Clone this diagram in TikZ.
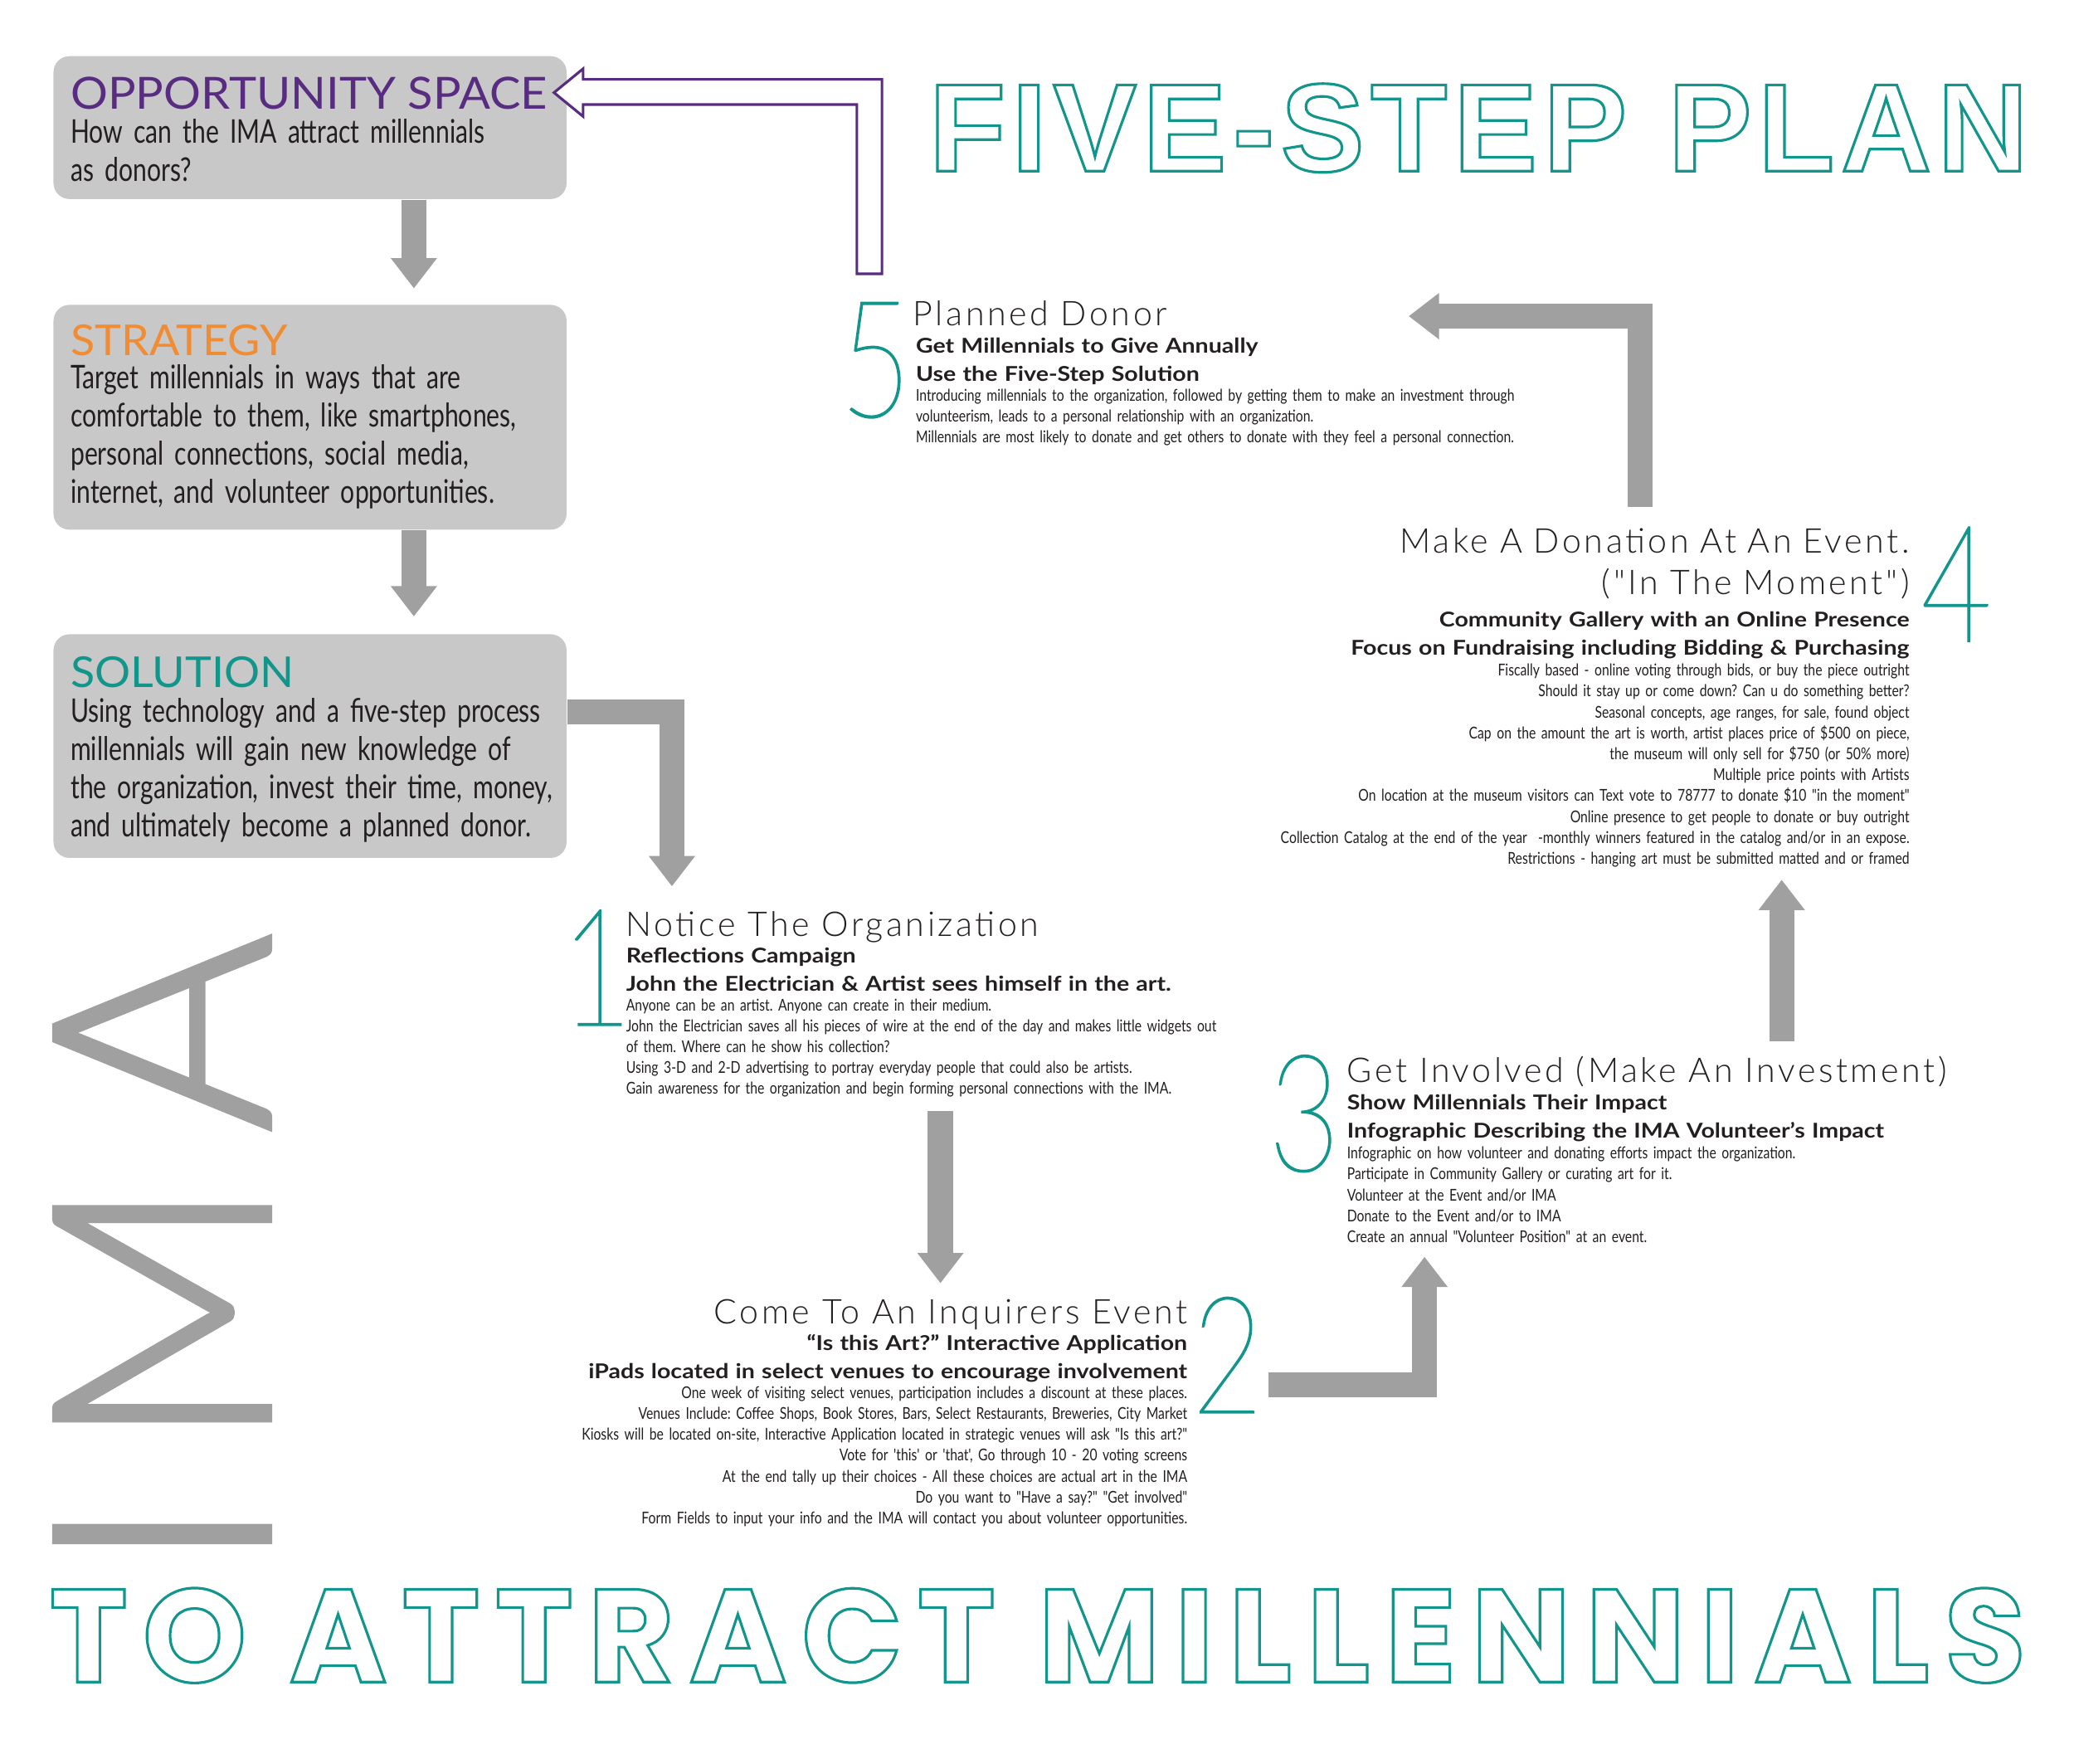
\documentclass[tikz,border=0pt]{standalone}
\usepackage{fontspec}
\setmainfont{Lato}
\usetikzlibrary{arrows.meta,calc}

\IfFontExistsTF{Lato Light}{%
  \newfontfamily\lightfont[LetterSpace=8.7]{Lato Light}%
  \newfontfamily\imafont[LetterSpace=14]{Lato Light}}{%
  \newfontfamily\lightfont[LetterSpace=8.7]{Lato}%
  \newfontfamily\imafont[LetterSpace=14]{Lato}}
\IfFontExistsTF{Lato Thin}{\newfontfamily\numfont[FakeStretch=0.75]{Lato Thin}}{%
  \IfFontExistsTF{Lato Hairline}{\newfontfamily\numfont[FakeStretch=0.75]{Lato Hairline}}{%
    \IfFontExistsTF{Lato Light}{\newfontfamily\numfont[FakeStretch=0.75]{Lato Light}}{\newfontfamily\numfont[FakeStretch=0.75]{Lato}}}}
\newfontfamily\headfont[FakeStretch=1.05]{Lato}
\newfontfamily\condfont[FakeStretch=0.765]{Lato}
\newfontfamily\notefont[FakeStretch=0.80]{Lato}
\newfontfamily\subfont[FakeStretch=1.16]{Lato}
\newfontfamily\titlefont[LetterSpace=5]{Liberation Sans}
\newfontfamily\widefont[LetterSpace=11.4]{Poppins}

\definecolor{boxgray}{RGB}{200,200,200}
\definecolor{arrowgray}{RGB}{160,160,160}
\definecolor{imateal}{RGB}{18,150,140}
\definecolor{opppurple}{RGB}{88,44,128}
\definecolor{stratorange}{RGB}{242,140,50}
\definecolor{inkgray}{RGB}{35,31,32}

\newcommand{\outlined}[1]{\special{pdf:literal direct 1 Tr 0.9 w}#1\special{pdf:literal direct 0 Tr}}
\newcommand{\thickened}[2]{\special{pdf:literal direct 2 Tr #1 w}#2\special{pdf:literal direct 0 Tr}}
\frenchspacing

\begin{document}
\begin{tikzpicture}[x=0.0159439cm, y=-0.0159439cm,
    box/.style={rectangle, rounded corners=5.5pt, fill=boxgray, inner sep=0pt, anchor=north west, minimum width=176pt},
    boxhead/.style={font=\headfont\fontsize{14.6}{17}\selectfont, inner sep=0pt, anchor=base west},
    boxtext/.style={font=\condfont\fontsize{11.2}{13.1}\selectfont, text=inkgray, text width=200pt, align=left, inner sep=0pt, anchor=base west},
    stephead/.style={font=\lightfont\fontsize{11.7}{14.1}\selectfont, text=inkgray, inner sep=0pt},
    stepsub/.style={font=\subfont\bfseries\fontsize{7.0}{9.55}\selectfont, text=inkgray, inner sep=0pt, text width=260pt},
    stepnote/.style={font=\notefont\fontsize{5.6}{7.17}\selectfont, text=inkgray, inner sep=0pt, text width=260pt},
    stepnum/.style={font=\numfont\fontsize{56}{60}\selectfont, text=imateal, inner sep=0pt, anchor=base},
    flow/.style={draw=arrowgray, line width=8.62pt, line join=miter, -{Triangle[width=15.2pt, length=10.4pt]}},
    bigtitle/.style={text=imateal, inner sep=0pt, anchor=base west}]
    \fill[white] (0,0) rectangle (1568,1333);
    \useasboundingbox (0,0) rectangle (1568,1333);

    \node[box, minimum height=49pt] (opp) at (40,42) {};
    \node[boxhead, font=\headfont\fontsize{15.2}{17}\selectfont, text=opppurple] (opphead) at ($(opp.north west)+(13,40.6)$) {OPPORTUNITY SPACE};
    \node[boxtext] (opptext) at ($(opp.north west)+(13,66)$) {How can the IMA attract millennials\\as donors?};

    \node[box, minimum height=77.1pt] (strat) at (40,230) {};
    \node[boxhead, text=stratorange] (strathead) at ($(strat.north west)+(13,38.7)$) {STRATEGY};
    \node[boxtext] (strattext) at ($(strat.north west)+(13,64)$) {Target millennials in ways that are\\comfortable to them, like smartphones,\\personal connections, social media,\\internet, and volunteer opportunities.};

    \node[box, minimum height=76.7pt] (sol) at (40,479) {};
    \node[boxhead, text=imateal] (solhead) at ($(sol.north west)+(13,40.5)$) {SOLUTION};
    \node[boxtext] (soltext) at ($(sol.north west)+(13,67)$) {Using technology and a five-step process\\millennials will gain new knowledge of\\the organization, invest their time, money,\\and ultimately become a planned donor.};

    \node[bigtitle, font=\titlefont\bfseries\fontsize{43}{47}\selectfont] (plan) at (702,129.4) {\outlined{FIVE-STEP PLAN}};
    \node[bigtitle, font=\widefont\bfseries\fontsize{45.3}{50}\selectfont] (aim) at (37,1271.5) {\outlined{TO ATTRACT MILLENNIALS}};
    \node[font=\imafont\fontsize{104.4}{110}\selectfont, text=arrowgray, rotate=90, anchor=base west, inner sep=0pt] (ima) at (204,1190) {\thickened{1.6}{IMA}};

    \node[stepnum] (n1) at (451,775) {\thickened{0.5}{1}};
    \node[stephead, anchor=base west] (h1) at (473,708) {Notice The Organization};
    \node[stepsub, align=left, anchor=base west] (b1) at (473,728) {Reflections Campaign\\John the Electrician \& Artist sees himself in the art.};
    \node[stepnote, align=left, anchor=base west] (t1) at (473,764) {Anyone can be an artist. Anyone can create in their medium.\\
      John the Electrician saves all his pieces of wire at the end of the day and makes little widgets out\\
      of them. Where can he show his collection?\\
      Using 3-D and 2-D advertising to portray everyday people that could also be artists.\\
      Gain awareness for the organization and begin forming personal connections with the IMA.};

    \node[stepnum] (n2) at (928,1068) {\thickened{0.5}{2}};
    \node[stephead, anchor=base east] (h2) at (898,1001) {Come To An Inquirers Event};
    \node[stepsub, align=right, anchor=base east] (b2) at (898,1021) {“Is this Art?” Interactive Application\\iPads located in select venues to encourage involvement};
    \node[stepnote, align=right, anchor=base east] (t2) at (898,1057) {One week of visiting select venues, participation includes a discount at these places.\\
      Venues Include: Coffee Shops, Book Stores, Bars, Select Restaurants, Breweries, City Market\\
      Kiosks will be located on-site, Interactive Application located in strategic venues will ask "Is this art?"\\
      Vote for 'this' or 'that', Go through 10 - 20 voting screens\\
      At the end tally up their choices - All these choices are actual art in the IMA\\
      Do you want to "Have a say?" "Get involved"\\
      Form Fields to input your info and the IMA will contact you about volunteer opportunities.};

    \node[stepnum] (n3) at (986,885) {\thickened{0.5}{3}};
    \node[stephead, anchor=base west] (h3) at (1018,818) {Get Involved (Make An Investment)};
    \node[stepsub, align=left, anchor=base west] (b3) at (1018,839) {Show Millennials Their Impact\\Infographic Describing the IMA Volunteer’s Impact};
    \node[stepnote, align=left, anchor=base west] (t3) at (1018,876) {Infographic on how volunteer and donating efforts impact the organization.\\
      Participate in Community Gallery or curating art for it.\\
      Volunteer at the Event and/or IMA\\
      Donate to the Event and/or to IMA\\
      Create an annual "Volunteer Position" at an event.};

    \node[stepnum] (n4) at (1479,485) {\thickened{0.5}{4}};
    \node[stephead, text width=260pt, align=right, anchor=base east] (h4) at (1444,418) {Make A Donation At An Event.\\("In The Moment")};
    \node[stepsub, align=right, anchor=base east] (b4) at (1444,474) {Community Gallery with an Online Presence\\Focus on Fundraising including Bidding \& Purchasing};
    \node[stepnote, align=right, anchor=base east] (t4) at (1444,511) {Fiscally based - online voting through bids, or buy the piece outright\\
      Should it stay up or come down? Can u do something better?\\
      Seasonal concepts, age ranges, for sale, found object\\
      Cap on the amount the art is worth, artist places price of \$500 on piece,\\
      the museum will only sell for \$750 (or 50\% more)\\
      Multiple price points with Artists\\
      On location at the museum visitors can Text vote to 78777 to donate \$10 "in the moment"\\
      Online presence to get people to donate or buy outright\\
      Collection Catalog at the end of the year \ -monthly winners featured in the catalog and/or in an expose.\\
      Restrictions - hanging art must be submitted matted and or framed};

    \node[stepnum] (n5) at (662,315) {\thickened{0.5}{5}};
    \node[stephead, anchor=base west] (h5) at (690,246) {Planned Donor};
    \node[stepsub, align=left, anchor=base west] (b5) at (692,267) {Get Millennials to Give Annually\\Use the Five-Step Solution};
    \node[stepnote, align=left, anchor=base west] (t5) at (692,303) {Introducing millennials to the organization, followed by getting them to make an investment through\\
      volunteerism, leads to a personal relationship with an organization.\\
      Millennials are most likely to donate and get others to donate with they feel a personal connection.};

    \draw[flow] ($(opp.south)+(78.5,0)$) -- ($(strat.north)+(78.5,-12)$);
    \draw[flow] ($(strat.south)+(78.5,0)$) -- ($(sol.north)+(78.5,-13)$);
    \draw[flow] ($(sol.north east)+(0,59)$) -| ($(h1.base west)+(35,-38)$);
    \draw[flow] ($(t1.base west)+(238,76)$) -- ($(h2.base east)+(-187,-31)$);
    \draw[flow] ($(b2.base east)+(61,26)$) -| ($(h3.base west)+(59,132)$);
    \draw[flow] ($(h3.base west)+(329,-31)$) -- ($(t4.base east)+(-97,154)$);
    \draw[flow] ($(h4.base east)+(-204,-35)$) |- ($(h5.base west)+(375,-7)$);
    \draw[opppurple, line width=0.9pt, fill=white, line join=miter] ($(opp.north east)+(-10,28)$) -- ++(22,-18) -- ++(0,8) -- ++(226,0) -- ++(0,147) -- ++(-19,0) -- ++(0,-128) -- ++(-207,0) -- ++(0,9) -- cycle;
\end{tikzpicture}
\end{document}
